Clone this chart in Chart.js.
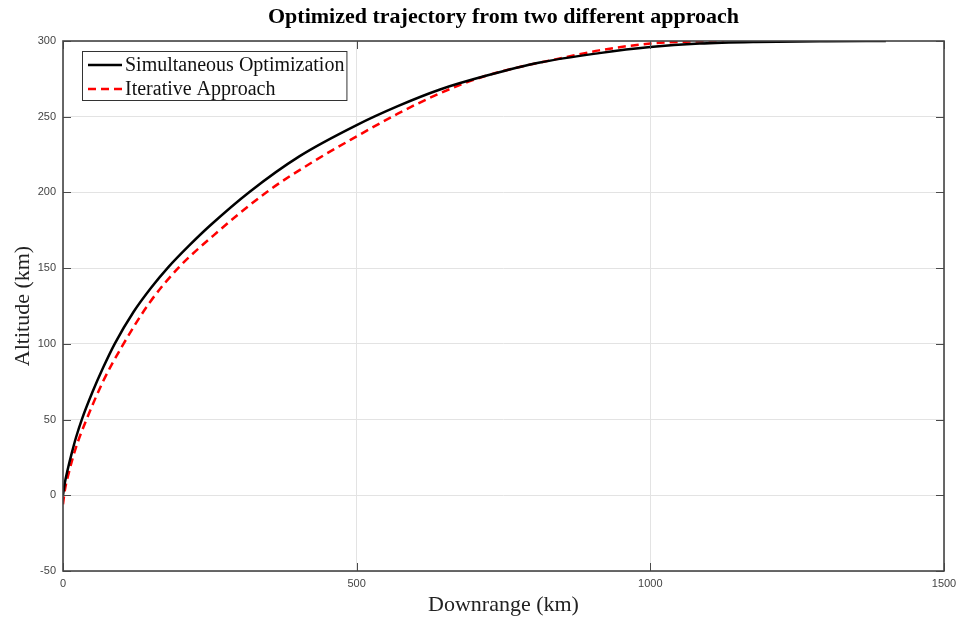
<!DOCTYPE html>
<html>
<head>
<meta charset="utf-8">
<script src="https://cdn.jsdelivr.net/npm/chart.js@4.4.1/dist/chart.umd.min.js"></script>
<style>
  html, body { margin: 0; padding: 0; background: #fff; }
  #wrap { width: 956px; height: 618px; position: relative; }
</style>
</head>
<body>
<div id="wrap"><canvas id="c" width="956" height="618"></canvas></div>
<script>
// ---- Data ----
const titleText = "Optimized trajectory from two different approach";
const xAxisTitle = "Downrange (km)";
const yAxisTitle = "Altitude (km)";

const simLabel = "Simultaneous Optimization";
const simX = [0, 3, 8, 15, 22, 32, 50, 68, 88, 120, 150, 179, 215, 250, 318, 403, 500, 570, 642, 720, 812, 913, 1000, 1084, 1180, 1300, 1401];
const simY = [0, 8, 17, 28, 38, 50, 68, 84, 100, 121, 137, 150.5, 165, 178, 200.5, 224, 244.5, 257, 268, 277, 285.8, 292, 296, 298.3, 299.4, 299.9, 300];

const iterLabel = "Iterative Approach";
const iterX = [0, 3, 10, 22, 40, 68, 100, 148, 196, 256, 346, 431, 500, 570, 642, 712, 779, 850, 913, 1000, 1060, 1126];
const iterY = [-6, 3, 15, 31.5, 50, 75, 98, 127.5, 150, 171.5, 200, 221.5, 237, 252, 265.5, 276, 283, 288.8, 293.8, 298.3, 299.5, 300];

const xTicks = [0, 500, 1000, 1500];
const yTicks = [-50, 0, 50, 100, 150, 200, 250, 300];

const toPoints = (xs, ys) => xs.map((x, i) => ({ x: x, y: ys[i] }));

// ---- Plugins ----
const frameTicks = {
  id: 'frameTicks',
  afterDatasetsDraw(chart) {
    const { ctx, chartArea: a, scales } = chart;
    ctx.save();
    ctx.strokeStyle = '#4a4a4a';
    ctx.lineWidth = 1;
    ctx.beginPath();
    yTicks.forEach(v => {
      const y = Math.round(scales.y.getPixelForValue(v)) + 0.5;
      ctx.moveTo(a.left, y); ctx.lineTo(a.left + 8, y);
      ctx.moveTo(a.right, y); ctx.lineTo(a.right - 8, y);
    });
    xTicks.forEach(v => {
      const x = Math.round(scales.x.getPixelForValue(v)) + 0.5;
      ctx.moveTo(x, a.bottom); ctx.lineTo(x, a.bottom - 8);
      ctx.moveTo(x, a.top); ctx.lineTo(x, a.top + 8);
    });
    ctx.stroke();
    ctx.lineWidth = 1.6;
    ctx.strokeStyle = '#444';
    ctx.strokeRect(a.left, a.top, a.right - a.left, a.bottom - a.top);
    ctx.restore();
  }
};

const boxLegend = {
  id: 'boxLegend',
  afterDraw(chart) {
    const { ctx, chartArea: a } = chart;
    const ds = chart.data.datasets;
    ctx.save();
    ctx.font = '20px "Liberation Serif", "Times New Roman", serif';
    const widths = ds.map(d => ctx.measureText(d.label).width);
    const bx = a.left + 19, by = a.top + 10;
    const sample = 34, gap = 3, padL = 6, padR = 2, rowH = 24;
    const bw = padL + sample + gap + Math.max(...widths) + padR;
    const bh = rowH * ds.length + 1;
    ctx.fillStyle = '#fff';
    ctx.fillRect(bx, by, bw, bh);
    ctx.strokeStyle = '#333';
    ctx.lineWidth = 1;
    ctx.strokeRect(bx + 0.5, by + 0.5, bw, bh);
    ds.forEach((d, i) => {
      const cy = by + 2 + rowH * i + rowH / 2;
      ctx.beginPath();
      ctx.strokeStyle = d.borderColor;
      ctx.lineWidth = d.borderWidth;
      ctx.setLineDash(d.borderDash || []);
      ctx.moveTo(bx + padL, cy);
      ctx.lineTo(bx + padL + sample, cy);
      ctx.stroke();
      ctx.setLineDash([]);
      ctx.fillStyle = '#111';
      ctx.textBaseline = 'middle';
      ctx.textAlign = 'left';
      ctx.fillText(d.label, bx + padL + sample + gap, cy + 1);
    });
    ctx.restore();
  }
};

const tickFont = { family: '"Liberation Sans", Arial, sans-serif', size: 11 };
const serifTitleFont = { family: '"Liberation Serif", "Times New Roman", serif', size: 22 };

new Chart(document.getElementById('c'), {
  type: 'scatter',
  data: {
    datasets: [
      {
        label: simLabel,
        data: toPoints(simX, simY),
        showLine: true,
        borderColor: '#000',
        borderWidth: 2.5,
        pointRadius: 0,
        cubicInterpolationMode: 'monotone',
        fill: false
      },
      {
        label: iterLabel,
        data: toPoints(iterX, iterY),
        showLine: true,
        borderColor: '#ff0000',
        borderWidth: 2.5,
        borderDash: [8, 5],
        pointRadius: 0,
        cubicInterpolationMode: 'monotone',
        fill: false
      }
    ]
  },
  options: {
    responsive: false,
    animation: false,
    devicePixelRatio: 1,
    layout: { padding: { left: 0, right: 12, top: 0, bottom: 0 } },
    plugins: {
      legend: { display: false },
      tooltip: { enabled: false },
      title: {
        display: true,
        fullSize: false,
        text: titleText,
        color: '#000',
        font: { family: '"Liberation Serif", "Times New Roman", serif', size: 22, weight: 'bold' },
        padding: { top: 4, bottom: 10.6 }
      }
    },
    scales: {
      x: {
        type: 'linear',
        min: 0, max: 1500,
        afterBuildTicks(scale) { scale.ticks = xTicks.map(v => ({ value: v })); },
        afterFit(scale) { scale.height = 47; scale.paddingLeft = 0; scale.paddingRight = 0; },
        grid: { color: '#e3e3e3', lineWidth: 1, drawTicks: false },
        border: { display: false },
        ticks: { color: '#444', font: tickFont, padding: 6, maxRotation: 0, callback: v => String(v) },
        title: { display: true, text: xAxisTitle, color: '#222', font: serifTitleFont, padding: 0 }
      },
      y: {
        type: 'linear',
        min: -50, max: 300,
        afterBuildTicks(scale) { scale.ticks = yTicks.map(v => ({ value: v })); },
        afterFit(scale) { scale.width = 63; scale.paddingTop = 0; scale.paddingBottom = 0; },
        grid: { color: '#e3e3e3', lineWidth: 1, drawTicks: false },
        border: { display: false },
        ticks: { color: '#444', font: tickFont, padding: 7, callback: v => String(v) },
        title: { display: true, text: yAxisTitle, color: '#222', font: serifTitleFont, padding: { top: 10, bottom: 0 } }
      }
    }
  },
  plugins: [frameTicks, boxLegend]
});
</script>
</body>
</html>
